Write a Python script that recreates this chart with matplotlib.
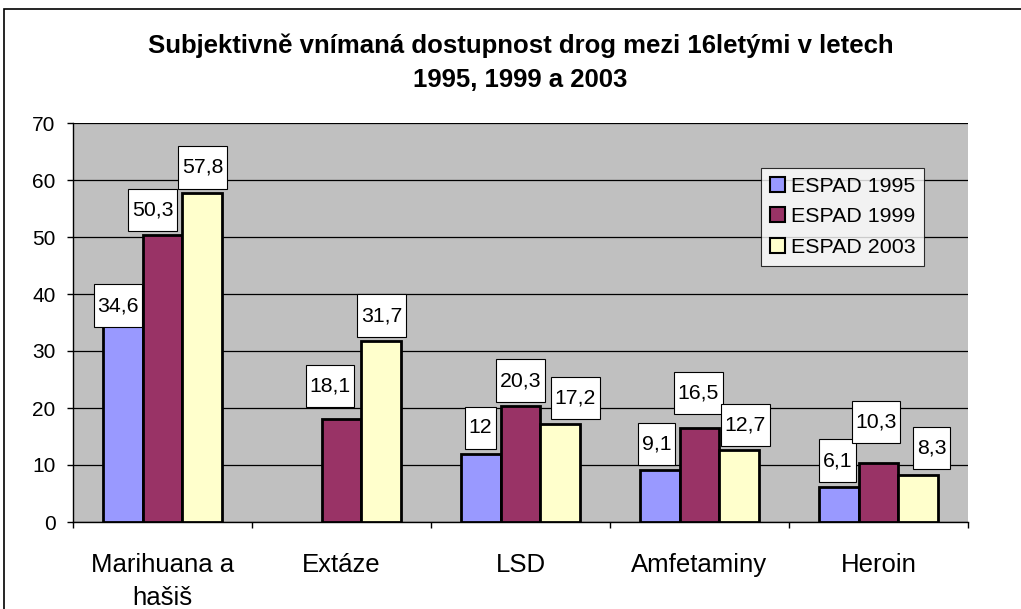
import numpy as np
import matplotlib
matplotlib.use("Agg")
import matplotlib.pyplot as plt
from matplotlib.patches import Rectangle
from matplotlib.path import Path

plt.rcParams['font.family'] = ['Liberation Sans', 'DejaVu Sans']

categories = ["Marihuana a\nhašiš", "Extáze", "LSD", "Amfetaminy", "Heroin"]
series_names = ["ESPAD 1995", "ESPAD 1999", "ESPAD 2003"]
espad_1995 = [34.6, None, 12, 9.1, 6.1]
espad_1999 = [50.3, 18.1, 20.3, 16.5, 10.3]
espad_2003 = [57.8, 31.7, 17.2, 12.7, 8.3]
colors = ["#9999FF", "#993366", "#FFFFCC"]

# hand placed data labels (pixel shift right, pixel gap above bar top)
label_dx = [[-4.5, 0, 0, -3, -1], [-10, -11.5, 0, -1, -2.5], [0, 0, 15, 6, 13]]
label_gap = [[-2, 0, 4.5, 5, 5.5], [4, 11.5, 4.5, 14, 20], [4, 4.5, 5, 3.5, 5.5]]

PX, PY = 0.16, 0.55


def label_box(x0, y0, width, height, mutation_size):
    # wider vertical padding than horizontal, like the Excel data labels
    px, py = PX * mutation_size, PY * mutation_size
    return Path([(x0 - px, y0 - py), (x0 + width + px, y0 - py),
                 (x0 + width + px, y0 + height + py), (x0 - px, y0 + height + py),
                 (x0 - px, y0 - py)], closed=True)


W, H = 1021, 609
fig = plt.figure(figsize=(W / 100, H / 100), dpi=100)
fig.patches.append(Rectangle((4 / W, -0.1), 1.2, (H - 9) / H + 0.1,
                             transform=fig.transFigure, fill=False,
                             ec="black", lw=1.2))

x0, x1, y_top, y_bot = 73, 968, 123, 522
ax = fig.add_axes([x0 / W, (H - y_bot) / H, (x1 - x0) / W, (y_bot - y_top) / H])
ax.set_facecolor("#C0C0C0")

lab_fs = 15.3
py_px = PY * lab_fs * 100 / 72
x = np.arange(len(categories))
bw = 0.223
for i, (vals, name, c) in enumerate(zip([espad_1995, espad_1999, espad_2003], series_names, colors)):
    pos = x + (i - 1) * bw
    v = np.array([np.nan if a is None else a for a in vals], dtype=float)
    ax.bar(pos, v, width=bw, color=c, edgecolor="black", lw=2.0, label=name, zorder=3)
    for j, (p, val) in enumerate(zip(pos, vals)):
        if val is None:
            continue
        txt = f"{val:g}".replace(".", ",")
        ax.annotate(txt, (p, val),
                    xytext=(label_dx[i][j] * 0.72, (label_gap[i][j] + py_px) * 0.72),
                    textcoords="offset points",
                    ha="center", va="bottom", fontsize=lab_fs, zorder=5,
                    bbox=dict(boxstyle=label_box, fc="white", ec="black", lw=0.8))

ax.set_xlim(-0.5, len(categories) - 0.5)
ax.set_ylim(0, 70)
ax.set_yticks(range(0, 71, 10))
ax.yaxis.grid(True, color="black", lw=0.9, zorder=1)
ax.set_axisbelow(True)

ax.set_xticks(np.arange(len(categories) + 1) - 0.5)
ax.set_xticklabels([])
ax.set_xticks(x, minor=True)
ax.set_xticklabels(categories, minor=True, fontsize=18.5, linespacing=1.5)
ax.tick_params(axis="x", which="minor", length=0, pad=22)
ax.tick_params(axis="x", which="major", length=4.5, width=1, direction="out")
ax.tick_params(axis="y", length=4.5, width=1, labelsize=15, pad=8)

for s in ["top", "right"]:
    ax.spines[s].set_visible(False)
for s in ["left", "bottom"]:
    ax.spines[s].set_color("black")
    ax.spines[s].set_linewidth(1)

fig.text((x0 + x1) / 2 / W, (H - 63) / H,
         "Subjektivně vnímaná dostupnost drog mezi 16letými v letech\n1995, 1999 a 2003",
         ha="center", va="center", fontsize=18.5, fontweight="bold", linespacing=1.5)

leg = ax.legend(loc="upper left", bbox_to_anchor=((761 - x0) / (x1 - x0), (y_bot - 168) / (y_bot - y_top)),
                fontsize=15.4, frameon=True, fancybox=False, edgecolor="black",
                handlelength=0.7, handleheight=0.7, handletextpad=0.3,
                borderpad=0.4, labelspacing=0.55, borderaxespad=0)
leg.get_frame().set_linewidth(0.8)
for h in leg.legend_handles:
    h.set_linewidth(1.5)

fig.savefig("out.png", dpi=100)
